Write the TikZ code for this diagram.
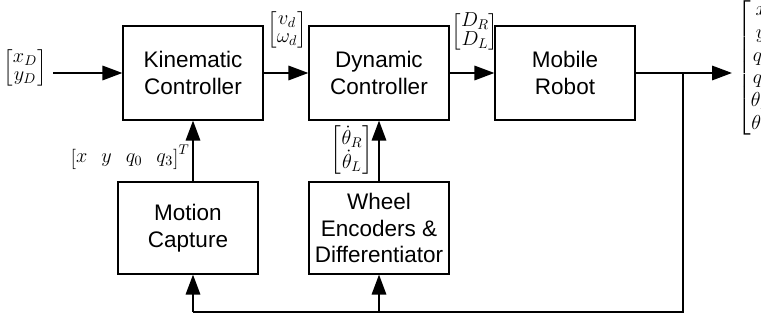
\documentclass[tikz,border=0pt]{standalone}
\usepackage{amsmath}
\usepackage{fontspec}
\setsansfont{Liberation Sans}
\usetikzlibrary{arrows.meta}
\tikzset{
>={Triangle[length=0.5cm,width=0.36cm]},
  block/.style={
    rectangle,
    draw=black, line width=0.8pt,
    minimum width=3.5cm,
    minimum height=2.35cm,
    align=center,
    font=\sffamily\fontsize{16}{19}\selectfont},
  signal/.style={draw, ->, line width=1.4pt},
  vec/.style={font=\fontsize{14}{17}\selectfont\renewcommand{\arraystretch}{0.75}, inner sep=0pt},
}

\begin{document}
\begin{tikzpicture}[x=0.025cm, y=-0.025cm]
			\useasboundingbox (0,0) rectangle (761,320);
			% blocks
			\node[block] (kin) at (193,73) {Kinematic\\Controller};
			\node[block] (dyn) at (379,73) {Dynamic\\Controller};
			\node[block] (rob) at (565,73) {Mobile\\Robot};
			\node[block, minimum height=2.3cm] (mocap) at (188,228) {Motion\\Capture};
			\node[block, minimum height=2.3cm] (enc) at (379,228) {Wheel\\Encoders \&\\Differentiator};
			\coordinate (in) at (53,73);
			\coordinate (out) at (732,73);
			\coordinate (split) at (683,73);
			\coordinate (fb) at (683,312);
			% forward path
			\draw[signal] (in) -- (kin);
			\draw[signal] (kin) -- (dyn);
			\draw[signal] (dyn) -- (rob);
			\draw[signal] (rob) -- (out);
			\draw[signal] (mocap.north -| kin.south) -- (kin.south);
			\draw[signal] (enc) -- (dyn);
			% feedback
			\draw[line width=1.4pt] (split) -- (fb) -- (fb -| kin);
			\draw[signal] (fb -| kin) -- (mocap.south -| kin);
			\draw[signal] (fb -| enc) -- (enc.south);
			% signal vectors
			\node[vec] (ref) at (25,68) {$\begin{bmatrix}x_D\\ y_D\end{bmatrix}$};
			\node[vec] (vel) at (287,30) {$\begin{bmatrix}v_d\\ \omega_d\end{bmatrix}$};
			\node[vec] (duty) at (475,32) {$\begin{bmatrix}D_R\\ D_L\end{bmatrix}$};
			\node[vec] (pose) at (130,157) {$\begin{bmatrix}x & y & q_0 & q_3\end{bmatrix}^T$};
			\node[vec] (rate) at (352,150) {$\begin{bmatrix}\dot\theta_R\\ \dot\theta_L\end{bmatrix}$};
			\node[vec, anchor=west] (state) at (737,68) {$\renewcommand{\arraystretch}{0.95}\left[\begin{matrix}x\\ y\\ q_0\\ q_3\\ \theta_R\\ \theta_L\end{matrix}\right.$};
\end{tikzpicture}
\end{document}
